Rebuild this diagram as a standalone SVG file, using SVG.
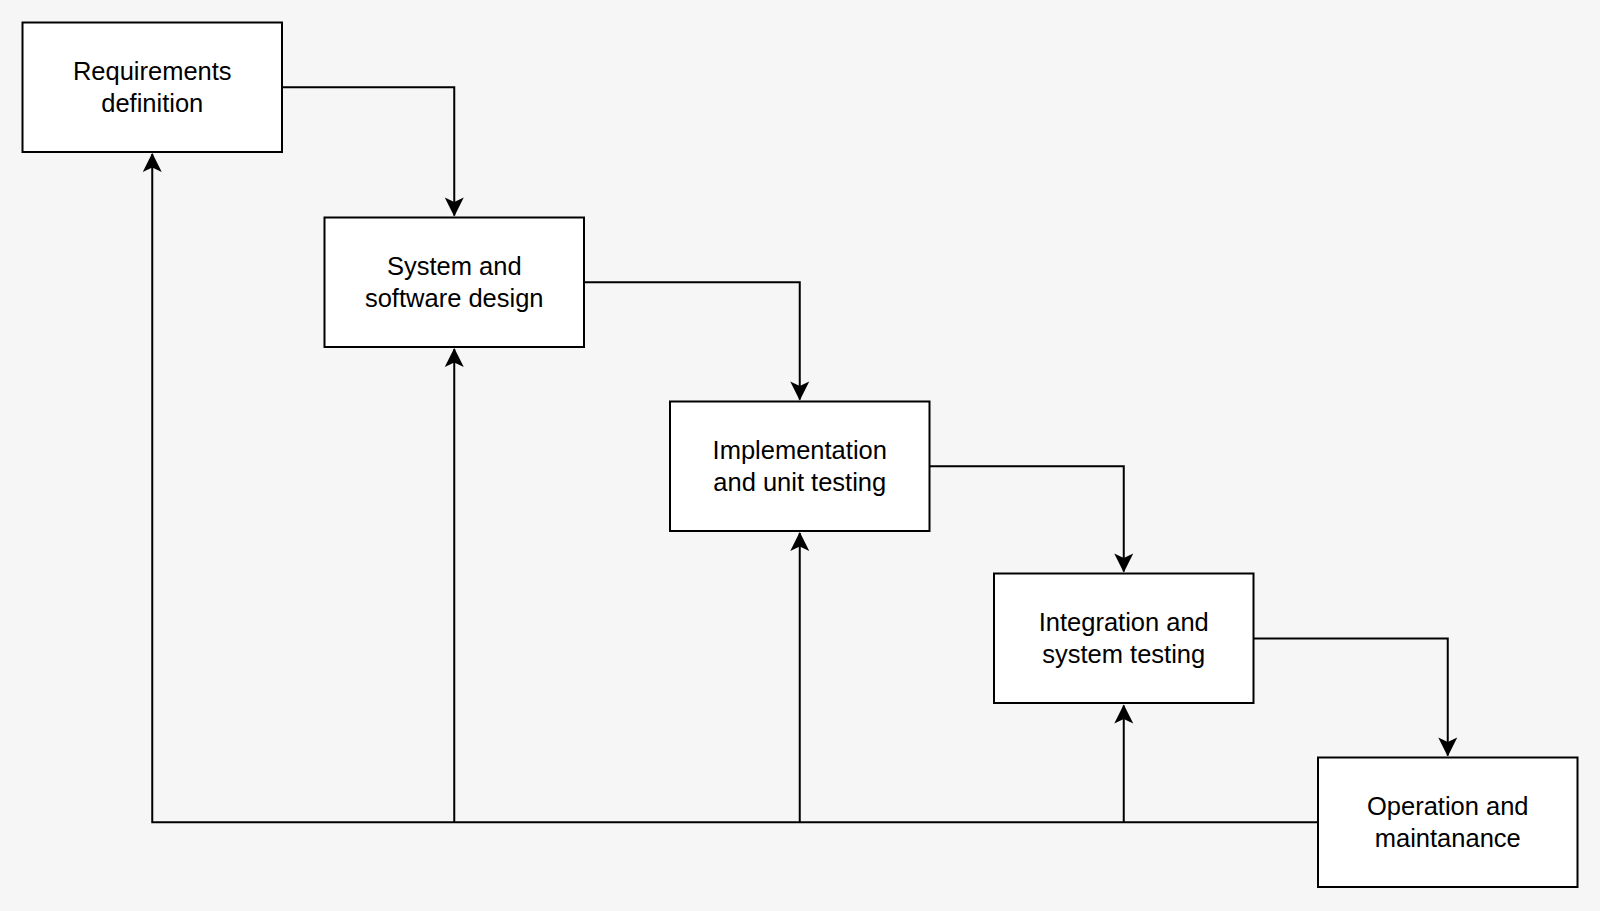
<svg xmlns="http://www.w3.org/2000/svg" width="1600" height="911" viewBox="0 0 1600 911">
<style>
.box{fill:#ffffff;stroke:#000000;stroke-width:2}
.lbl{font-family:"Liberation Sans",Arial,sans-serif;font-size:25.5px;fill:#000000;text-anchor:middle}
.edge{fill:none;stroke:#000000;stroke-width:2}
</style>
<defs>
<marker id="arr" markerUnits="userSpaceOnUse" viewBox="-20 -11 22 22" refX="0" refY="0" markerWidth="22" markerHeight="22" orient="auto">
<path d="M1,0 L-18,-9.5 L-13.5,0 L-18,9.5 Z" fill="#000000"/>
</marker>
</defs>
<rect width="1600" height="911" fill="#f6f6f6"/>
<g id="connectors">
<path class="edge" d="M282,87.25 H454.25 V215.5" marker-end="url(#arr)"/>
<path class="edge" d="M584,282.25 H799.75 V399.5" marker-end="url(#arr)"/>
<path class="edge" d="M929.5,466.25 H1123.75 V571.5" marker-end="url(#arr)"/>
<path class="edge" d="M1253.5,638.5 H1447.75 V755.5" marker-end="url(#arr)"/>
<path class="edge" d="M1318,822.25 H152.25 V154" marker-end="url(#arr)"/>
<path class="edge" d="M454.25,822.25 V349" marker-end="url(#arr)"/>
<path class="edge" d="M799.75,822.25 V533" marker-end="url(#arr)"/>
<path class="edge" d="M1123.75,822.25 V705.5" marker-end="url(#arr)"/>
</g>
<g id="node-requirements">
<rect class="box" x="22.5" y="22.5" width="259.5" height="129.5"/>
<text class="lbl" x="152.25" y="80">Requirements</text>
<text class="lbl" x="152.25" y="112">definition</text>
</g>
<g id="node-design">
<rect class="box" x="324.5" y="217.5" width="259.5" height="129.5"/>
<text class="lbl" x="454.25" y="275">System and</text>
<text class="lbl" x="454.25" y="307">software design</text>
</g>
<g id="node-implementation">
<rect class="box" x="670" y="401.5" width="259.5" height="129.5"/>
<text class="lbl" x="799.75" y="459">Implementation</text>
<text class="lbl" x="799.75" y="491">and unit testing</text>
</g>
<g id="node-integration">
<rect class="box" x="994" y="573.5" width="259.5" height="129.5"/>
<text class="lbl" x="1123.75" y="631">Integration and</text>
<text class="lbl" x="1123.75" y="663">system testing</text>
</g>
<g id="node-operation">
<rect class="box" x="1318" y="757.5" width="259.5" height="129.5"/>
<text class="lbl" x="1447.75" y="815">Operation and</text>
<text class="lbl" x="1447.75" y="847">maintanance</text>
</g>
</svg>
